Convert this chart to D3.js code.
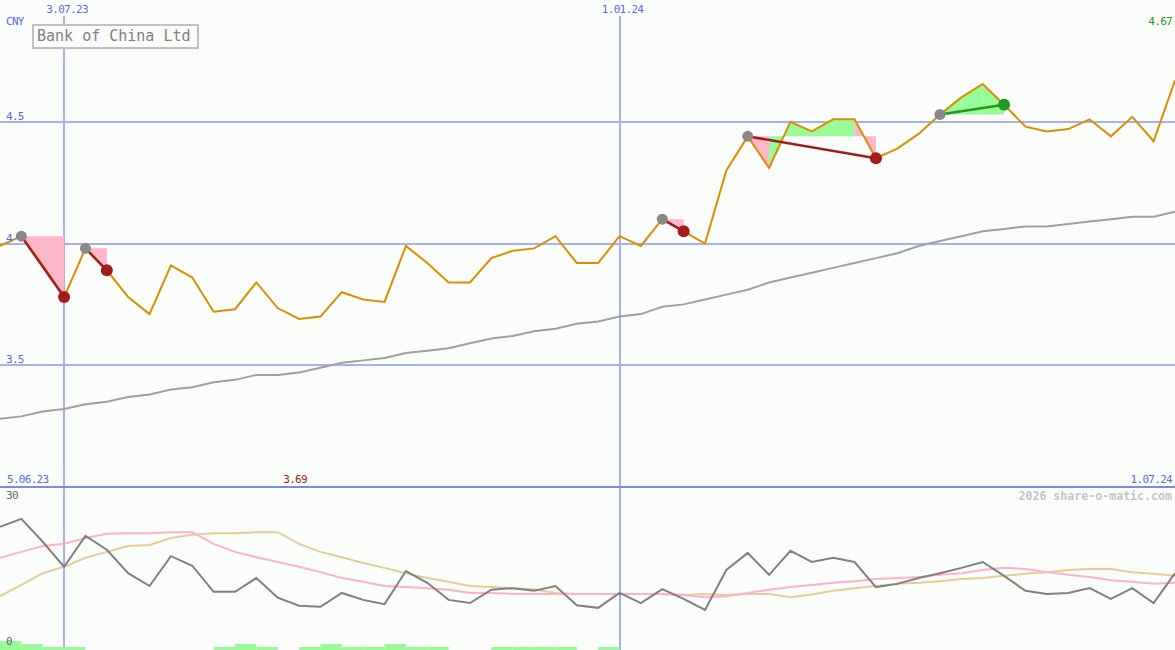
<!DOCTYPE html>
<html><head><meta charset="utf-8">
<script src="https://cdn.jsdelivr.net/npm/d3@7"></script>
<style>
body{margin:0;background:#fbfdfb;}
svg{display:block;}
text{font-family:"DejaVu Sans Mono",monospace;}
</style>
</head><body>
<svg id="c" width="1175" height="650"></svg>
<script>
// ---- data ----
const startDate = "2023-06-12";
const endDate = "2024-07-01";
const price = [3.99,4.03,3.91,3.78,3.98,3.89,3.78,3.71,3.91,3.86,3.72,3.73,3.84,3.735,3.69,3.70,3.80,3.77,3.76,3.99,
  3.92,3.84,3.84,3.94,3.97,3.98,4.03,3.92,3.92,4.03,3.99,4.10,4.05,4.00,4.30,4.44,4.31,4.50,4.46,4.51,
  4.51,4.35,4.39,4.45,4.53,4.60,4.655,4.57,4.48,4.46,4.47,4.51,4.44,4.52,4.42,4.67];
const movingAvg = [3.28,3.29,3.31,3.32,3.34,3.35,3.37,3.38,3.40,3.41,3.43,3.44,3.46,3.46,3.47,3.49,3.51,3.52,3.53,3.55,
  3.56,3.57,3.59,3.61,3.62,3.64,3.65,3.67,3.68,3.70,3.71,3.74,3.75,3.77,3.79,3.81,3.84,3.86,3.88,3.90,
  3.92,3.94,3.96,3.99,4.01,4.03,4.05,4.06,4.07,4.07,4.08,4.09,4.10,4.11,4.11,4.13];
const oscGrey = [23.1,24.6,20.3,15.6,21.4,18.8,14.4,12.0,17.6,15.8,10.9,10.9,13.5,9.8,8.3,8.1,10.7,9.4,8.6,14.8,
  12.6,9.4,8.8,11.3,11.6,11.1,12.0,8.4,7.9,10.7,8.8,11.4,9.6,7.5,15.0,18.2,14.1,18.6,16.5,17.3,
  16.5,11.8,12.4,13.5,14.4,15.4,16.5,13.9,11.1,10.5,10.7,11.6,9.6,11.6,8.8,14.4];
const oscPink = [17.3,18.4,19.5,19.9,21.0,21.8,21.9,21.9,22.1,22.1,19.9,18.4,17.4,16.5,15.6,14.6,13.5,12.8,12.0,11.8,
  11.6,11.3,10.7,10.7,10.5,10.5,10.5,10.5,10.5,10.5,10.5,10.5,10.3,9.9,10.1,10.7,11.3,11.8,12.2,12.6,
  12.9,13.3,13.5,13.7,14.1,14.4,15.0,15.4,15.2,14.6,14.1,13.7,13.1,12.8,12.4,12.6];
const oscTan = [10.1,12.2,14.4,15.6,17.3,18.4,19.5,19.7,21.0,21.6,21.9,21.9,22.1,22.1,19.9,18.4,17.4,16.3,15.4,14.4,
  13.5,12.8,12.0,11.8,11.6,11.4,10.7,10.5,10.5,10.5,10.5,10.5,10.3,10.5,10.3,10.5,10.5,9.9,10.4,11.1,
  11.6,12.0,12.4,12.6,12.9,13.3,13.5,13.9,14.3,14.6,15.0,15.2,15.2,14.6,14.3,13.9];
const barUnits = [3,2,1,1,0,0,0,0,0,0,1,2,1,0,1,2,1,1,2,1,
  1,0,0,1,1,1,1,0,1,0,0,0,0,0,0,0,0,0,0,0,
  0,0,0,0,0,0,0,0,0,0,0,0,0,0,0,0];
const signalStart = [1,4,31,35,44];
const signalEnd = [3,5,32,41,47];
const priceTicks = [4.5,4,3.5];
const priceTickLabels = ["4.5","4","3.5"];
const dateTicks = ["2023-07-03","2024-01-01"];
const dateTickLabels = ["3.07.23","1.01.24"];
const oscTicks = [30,0];
const oscTickLabels = ["30","0"];
const title = "Bank of China Ltd";
const currency = "CNY";
const rangeStartLabel = "5.06.23";
const rangeEndLabel = "1.07.24";
const credit = "2026 share-o-matic.com";

// ---- setup ----
const W = 1175, H = 650;
const parse = d3.utcParse("%Y-%m-%d");
const dates = d3.utcMonday.range(parse(startDate), d3.utcDay.offset(parse(endDate),1));
const svg = d3.select("#c");
const x = d3.scaleUtc().domain([parse(startDate), parse(endDate)]).range([0, W]);
const y = d3.scaleLinear().domain([3, 5]).range([487, 0]);
const yo = d3.scaleLinear().domain([0, 30]).range([650, 490]);
const yb = d3.scaleLinear().domain([0, 3]).range([650, 641]);

const C = {grid:"#a4aff4", sep:"#7b88ee", lbl:"#5a68ee", orange:"#db8e00", ma:"#a0a0a0",
  pink:"#ffb6c9", green:"#98fb98", red:"#a31c1c", dgreen:"#229922", grey:"#888888"};

svg.append("rect").attr("width",W).attr("height",H).attr("fill","#fbfdfb");

// horizontal grid
svg.append("g").selectAll("line").data(priceTicks).join("line")
  .attr("x1",0).attr("x2",W).attr("y1",d=>Math.round(y(d))).attr("y2",d=>Math.round(y(d)))
  .attr("stroke",C.grid).attr("stroke-width",2);
// vertical grid
svg.append("g").selectAll("line").data(dateTicks).join("line")
  .attr("x1",d=>Math.round(x(parse(d)))).attr("x2",d=>Math.round(x(parse(d))))
  .attr("y1",16).attr("y2",H).attr("stroke",C.grid).attr("stroke-width",2);
// separator
svg.append("line").attr("x1",0).attr("x2",W).attr("y1",487).attr("y2",487)
  .attr("stroke",C.sep).attr("stroke-width",2);

// signal fills
const fillG = svg.append("g");
signalStart.forEach((s,j)=>{
  const e = signalEnd[j];
  const base = price[s];
  for(let k=s;k<e;k++){
    const pts = [[x(dates[k]),y(base)],[x(dates[k]),y(price[k])],[x(dates[k+1]),y(price[k+1])],[x(dates[k+1]),y(base)]];
    fillG.append("path").attr("d","M"+pts.map(p=>p.join(",")).join("L")+"Z")
      .attr("fill", price[k+1] >= base ? C.green : C.pink);
  }
});

// moving average
svg.append("path").datum(movingAvg)
  .attr("d", d3.line().x((d,i)=>x(dates[i])).y(d=>y(d)))
  .attr("fill","none").attr("stroke",C.ma).attr("stroke-width",2);
// price
svg.append("path").datum(price)
  .attr("d", d3.line().x((d,i)=>x(dates[i])).y(d=>y(d)))
  .attr("fill","none").attr("stroke",C.orange).attr("stroke-width",2);

// connectors + circles
signalStart.forEach((s,j)=>{
  const e = signalEnd[j];
  const up = price[e] >= price[s];
  svg.append("line").attr("x1",x(dates[s])).attr("y1",y(price[s])).attr("x2",x(dates[e])).attr("y2",y(price[e]))
    .attr("stroke", up?C.dgreen:C.red).attr("stroke-width",2.5);
  svg.append("circle").attr("cx",x(dates[s])).attr("cy",y(price[s])).attr("r",5.5).attr("fill",C.grey);
  svg.append("circle").attr("cx",x(dates[e])).attr("cy",y(price[e])).attr("r",6).attr("fill",up?C.dgreen:C.red);
});

// lower pane bars
svg.append("g").selectAll("rect").data(barUnits.map((v,i)=>({v,i})).filter(d=>d.v>0)).join("rect")
  .attr("x",d=>x(dates[d.i])).attr("width",d=>x(dates[d.i+1])-x(dates[d.i]))
  .attr("y",d=>yb(d.v)).attr("height",d=>650-yb(d.v)).attr("fill",C.green);

// oscillator lines
[[oscTan,"#e6cc99"],[oscPink,"#ffb0cc"],[oscGrey,"#808080"]].forEach(([arr,col])=>{
  svg.append("path").datum(arr)
    .attr("d", d3.line().x((d,i)=>x(dates[i])).y(d=>yo(d)))
    .attr("fill","none").attr("stroke",col).attr("stroke-width",2);
});

// labels
const T = (tx,ty,str,opts={})=>svg.append("text").attr("x",tx).attr("y",ty).text(str)
  .attr("font-size",opts.size||11).attr("letter-spacing",opts.ls!==undefined?opts.ls:-0.7)
  .attr("fill",opts.fill||C.lbl).attr("text-anchor",opts.anchor||"start")
  .attr("font-weight",opts.weight||"normal");

dateTicks.forEach((d,i)=>T(x(parse(d))+3,13,dateTickLabels[i],{anchor:"middle"}));
priceTicks.forEach((d,i)=>T(6,Math.round(y(d))-2,priceTickLabels[i]));
T(6,25,currency);
T(1172,25,d3.format(".2f")(price[price.length-1]),{anchor:"end",fill:C.dgreen});
T(7,483,rangeStartLabel);
T(1172,483,rangeEndLabel,{anchor:"end"});
const minI = d3.minIndex(price);
T(x(dates[minI])-4,483,d3.format(".2f")(price[minI]),{anchor:"middle",fill:C.red});
T(1172,500,credit,{anchor:"end",fill:"#c6c6c6",weight:"bold",size:11.6,ls:0});
oscTicks.forEach((d,i)=>T(6,i===0?499:645,oscTickLabels[i],{fill:"#666"}));

// title box
svg.append("rect").attr("x",33).attr("y",25).attr("width",165).attr("height",23)
  .attr("fill","#fbfdfb").attr("stroke","#c0c0c0").attr("stroke-width",2);
T(37,41,title,{size:15,fill:"#808080",ls:0});
</script>
</body></html>
